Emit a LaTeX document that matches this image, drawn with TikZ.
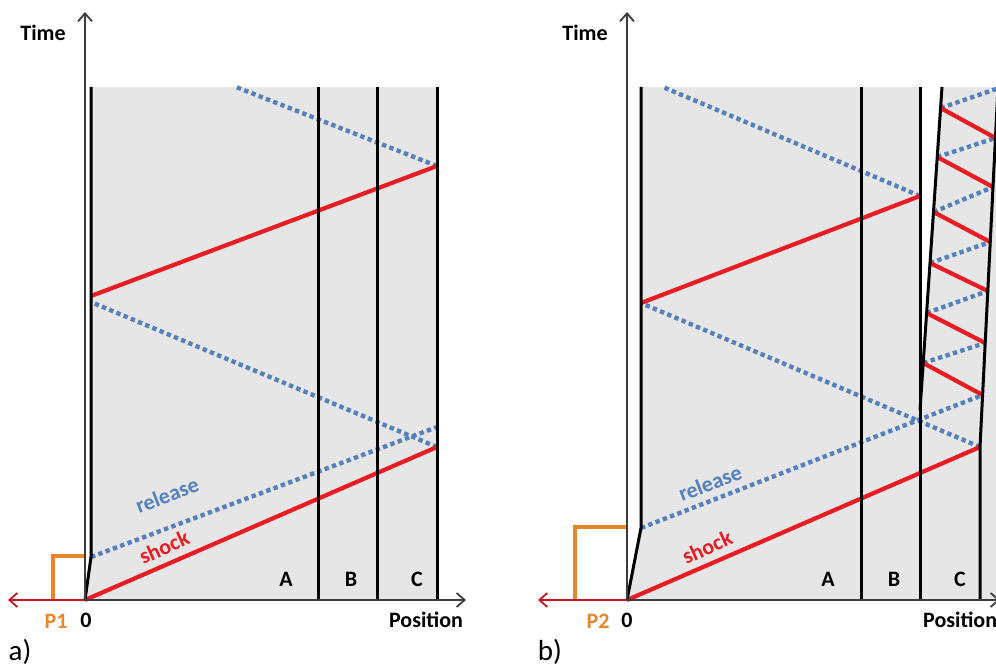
\documentclass[tikz,border=0pt]{standalone}
\usepackage{fontspec}
\setmainfont{Carlito}
\usetikzlibrary{arrows.meta}
\definecolor{bggray}{RGB}{230,230,230}
\definecolor{shockred}{RGB}{232,28,34}
\definecolor{relblue}{RGB}{84,128,188}
\definecolor{pulseorange}{RGB}{232,134,44}
\definecolor{axisgray}{RGB}{60,60,60}
\tikzset{
  wall/.style={line width=3pt, black},
  shockline/.style={line width=4.2pt, shockred},
  relline/.style={line width=4.4pt, relblue, dash pattern=on 4.4pt off 3.4pt},
  axisline/.style={line width=1.8pt, axisgray, -{Straight Barb[length=8pt,width=14pt,line width=1.8pt]}},
  backarrow/.style={line width=2pt, shockred!85!black, -{Straight Barb[length=8pt,width=14pt,line width=1.8pt]}},
  pulse/.style={line width=3.2pt, pulseorange},
  lbl/.style={font=\fontsize{22}{26}\selectfont\bfseries, inner sep=0pt},
  panel/.style={font=\fontsize{29}{33}\selectfont, inner sep=0pt},
}
\begin{document}
\begin{tikzpicture}[x=1pt,y=-1pt]
\useasboundingbox (0,0) rectangle (996,666);
\clip (0,0) rectangle (996,666);

% ================= panel a =================
\coordinate (Oa) at (85,600);
\coordinate (TaTop) at (85,12);
\coordinate (PaEnd) at (466,600);
\coordinate (NaEnd) at (8,600);
\coordinate (Wa1) at (91,87);
\coordinate (Wa2) at (91,557);
\coordinate (Pa1) at (53,600);
\coordinate (Pa2) at (53,556);
\coordinate (Pa3) at (85,556);
\coordinate (Aa1) at (318,87);  \coordinate (Aa2) at (318,600);
\coordinate (Ba1) at (377,87);  \coordinate (Ba2) at (377,600);
\coordinate (Ca1) at (437,87);  \coordinate (Ca2) at (437,600);
\coordinate (Sa1) at (437,447);
\coordinate (Ra1) at (437,427);
\coordinate (Sa2) at (91,302);
\coordinate (Sa3) at (91,296);
\coordinate (Sa4) at (437,166);
\coordinate (Sa5) at (236,87);

\fill[bggray] (Wa1) -- (Ca1) -- (Ca2) -- (Oa) -- (Wa2) -- cycle;

\draw[relline] (Wa2) -- (Ra1);
\draw[relline] (Sa1) -- (Sa2);
\draw[relline] (Sa4) -- (Sa5);
\draw[shockline] (Oa) -- (Sa1);
\draw[shockline] (Sa3) -- (Sa4);

\draw[wall] (Wa1) -- (Wa2) -- (Oa);
\draw[wall] (Aa1) -- (Aa2);
\draw[wall] (Ba1) -- (Ba2);
\draw[wall] (Ca1) -- (Ca2);

\draw[pulse] (Pa1) -- (Pa2) -- (Pa3);
\draw[backarrow] (Oa) -- (NaEnd);
\draw[axisline] (Oa) -- (PaEnd);
\draw[axisline] (Oa) -- (TaTop);

\node[lbl] (timeA) at (43,33) {Time};
\node[lbl] (posA) at (426,620) {Position};
\node[lbl] (zeroA) at (86,620) {0};
\node[lbl, text=pulseorange] (p1) at (56,621) {P1};
\node[lbl] (labA) at (286,579) {A};
\node[lbl] (labB) at (351,579) {B};
\node[lbl] (labC) at (417,579) {C};
\node[lbl, text=relblue, rotate=21] (relA) at (167,495) {release};
\node[lbl, text=shockred, rotate=24] (shkA) at (164,547) {shock};
\node[panel] (pa) at (20,652) {a)};

% ================= panel b =================
\coordinate (Ob) at (627,600);
\coordinate (TbTop) at (627,12);
\coordinate (PbEnd) at (1000,600);
\coordinate (NbEnd) at (538,600);
\coordinate (Wb1) at (641,87);
\coordinate (Wb2) at (641,528);
\coordinate (Pb1) at (575,600);
\coordinate (Pb2) at (575,527);
\coordinate (Pb3) at (627,527);
\coordinate (Ab1) at (861,87);  \coordinate (Ab2) at (861,600);
\coordinate (Bb1) at (920,87);  \coordinate (Bb2) at (920,600);
\coordinate (Cl1) at (920,410); \coordinate (Cl2) at (942,87);
\coordinate (Cr0) at (980,600); \coordinate (Cr1) at (980,447); \coordinate (Cr2) at (998,87);
\coordinate (FarTop) at (1000,87); \coordinate (FarBot) at (1000,600);
\coordinate (Sb1) at (980,447);
\coordinate (Rb1) at (982.6,395);
\coordinate (Sb2) at (641,303);
\coordinate (Sb3) at (920,196);
\coordinate (Sb4) at (663,87);
% zig-zag in layer C
\coordinate (z1) at (923.2,363);
\coordinate (z2) at (985.2,343);
\coordinate (z3) at (926.6,313);
\coordinate (z4) at (987.8,291);
\coordinate (z5) at (930,263);
\coordinate (z6) at (990.3,242);
\coordinate (z7) at (933.5,212);
\coordinate (z8) at (993,187);
\coordinate (z9) at (937.2,157);
\coordinate (z10) at (995.5,138);
\coordinate (z11) at (940.6,108);
\coordinate (z12) at (1002,87);

\fill[bggray] (Wb1) -- (FarTop) -- (FarBot) -- (Ob) -- (Wb2) -- cycle;
\fill[white] (Bb1) -- (Cl2) -- (Cl1) -- cycle;

\draw[relline] (Wb2) -- (Rb1);
\draw[relline] (Sb1) -- (Sb2);
\draw[relline] (Sb3) -- (Sb4);
\draw[relline] (z1) -- (z2);
\draw[relline] (z3) -- (z4);
\draw[relline] (z5) -- (z6);
\draw[relline] (z7) -- (z8);
\draw[relline] (z9) -- (z10);
\draw[relline] (z11) -- (z12);
\draw[shockline] (Ob) -- (Sb1);
\draw[shockline] (Sb2) -- (Sb3);
\draw[shockline] (Rb1) -- (z1);
\draw[shockline] (z2) -- (z3);
\draw[shockline] (z4) -- (z5);
\draw[shockline] (z6) -- (z7);
\draw[shockline] (z8) -- (z9);
\draw[shockline] (z10) -- (z11);

\draw[wall] (Wb1) -- (Wb2) -- (Ob);
\draw[wall] (Ab1) -- (Ab2);
\draw[wall] (Bb1) -- (Bb2);
\draw[wall] (Cl1) -- (Cl2);
\draw[wall] (Cr0) -- (Cr1) -- (Cr2);

\draw[pulse] (Pb1) -- (Pb2) -- (Pb3);
\draw[backarrow] (Ob) -- (NbEnd);
\draw[axisline] (Ob) -- (PbEnd);
\draw[axisline] (Ob) -- (TbTop);

\node[lbl] (timeB) at (585,33) {Time};
\node[lbl, anchor=west] (posB) at (923,620) {Position};
\node[lbl] (zeroB) at (627,620) {0};
\node[lbl, text=pulseorange] (p2) at (598,621) {P2};
\node[lbl] (labAb) at (828,579) {A};
\node[lbl] (labBb) at (894,579) {B};
\node[lbl] (labCb) at (960,579) {C};
\node[lbl, text=relblue, rotate=21] (relB) at (710,483) {release};
\node[lbl, text=shockred, rotate=24] (shkB) at (707,547) {shock};
\node[panel] (pb) at (550,652) {b)};
\end{tikzpicture}
\end{document}
